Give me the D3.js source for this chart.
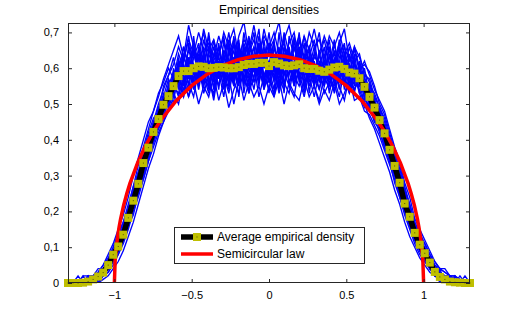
<!DOCTYPE html>
<html lang="en">
<head>
<meta charset="UTF-8">
<title>Empirical densities</title>
<script src="https://cdn.jsdelivr.net/npm/d3@7"></script>
<style>
    body { margin: 0; background: #fff; }
    svg { font-family: 'Liberation Sans', Arial, sans-serif; }
</style>
</head>
<body>
<div id="chart"></div>
<script>
// bin centres: -1.3 .. 1.3, 81 points
var xStart = -1.3, xStep = 0.0325, nBins = 81;
var binX = d3.range(nBins).map(function(k){ return +(xStart + k * xStep).toFixed(4); });

// average empirical density
var average = [0,0,0,0.001,0.004,0.010,0.018,0.029,0.050,0.079,
    0.102,0.135,0.182,0.230,0.277,0.335,0.378,0.422,0.458,0.498,
    0.522,0.550,0.578,0.592,0.592,0.600,0.605,0.604,0.600,0.601,
    0.603,0.602,0.600,0.600,0.603,0.609,0.612,0.612,0.615,0.615,
    0.606,0.617,0.613,0.608,0.606,0.608,0.611,0.600,0.598,0.598,
    0.593,0.590,0.596,0.602,0.604,0.598,0.588,0.585,0.572,0.548,
    0.520,0.490,0.455,0.418,0.372,0.327,0.280,0.222,0.185,0.140,
    0.107,0.083,0.057,0.031,0.017,0.010,0.004,0.002,0.001,0,0];

// a selection of the individual empirical densities (blue)
var emp1 = [0,0,0,0,0,0.02,0.02,0.04,0.06,0.08, 0.12,0.15,0.17,0.25,0.28,0.31,0.40,0.43,0.44,0.52,
    0.49,0.60,0.55,0.64,0.57,0.66,0.55,0.63,0.69,0.56, 0.62,0.54,0.66,0.59,0.67,0.55,0.64,0.70,0.58,0.63,
    0.53,0.66,0.60,0.69,0.55,0.62,0.66,0.54,0.64,0.57, 0.65,0.55,0.61,0.68,0.56,0.63,0.60,0.55,0.62,0.51,
    0.55,0.47,0.48,0.40,0.39,0.31,0.30,0.21,0.19,0.13, 0.12,0.06,0.07,0.02,0.02,0,0.02,0,0,0,0];
var emp2 = [0,0,0,0,0.02,0,0.02,0.02,0.04,0.09, 0.09,0.14,0.20,0.21,0.30,0.33,0.36,0.45,0.47,0.48,
    0.56,0.52,0.63,0.55,0.62,0.66,0.58,0.55,0.65,0.62, 0.54,0.68,0.57,0.63,0.52,0.66,0.61,0.57,0.67,0.60,
    0.65,0.56,0.70,0.58,0.63,0.55,0.60,0.67,0.53,0.62, 0.56,0.64,0.53,0.60,0.66,0.54,0.63,0.61,0.53,0.58,
    0.49,0.52,0.43,0.44,0.35,0.34,0.26,0.24,0.16,0.15, 0.09,0.10,0.04,0.04,0.02,0.02,0,0,0,0,0];
var emp3 = [0,0,0,0,0,0.02,0,0.04,0.05,0.07, 0.11,0.12,0.19,0.24,0.26,0.35,0.37,0.40,0.49,0.50,
    0.53,0.58,0.60,0.52,0.67,0.58,0.63,0.56,0.60,0.68, 0.57,0.63,0.60,0.55,0.66,0.62,0.56,0.64,0.71,0.57,
    0.60,0.68,0.55,0.62,0.66,0.57,0.65,0.59,0.62,0.55, 0.60,0.58,0.66,0.55,0.63,0.67,0.54,0.61,0.58,0.55,
    0.53,0.46,0.47,0.39,0.38,0.33,0.25,0.23,0.18,0.12, 0.11,0.07,0.05,0.04,0,0.02,0,0.02,0,0,0];
var emp4 = [0,0,0.02,0,0,0,0.02,0.02,0.06,0.06, 0.10,0.15,0.16,0.23,0.27,0.32,0.39,0.41,0.46,0.47,
    0.55,0.50,0.61,0.58,0.54,0.63,0.67,0.57,0.62,0.54, 0.66,0.60,0.56,0.69,0.60,0.64,0.57,0.62,0.55,0.68,
    0.58,0.62,0.66,0.56,0.59,0.68,0.56,0.62,0.66,0.60, 0.54,0.62,0.59,0.65,0.57,0.62,0.56,0.62,0.56,0.50,
    0.56,0.50,0.45,0.43,0.36,0.30,0.29,0.22,0.17,0.16, 0.10,0.08,0.06,0.02,0.04,0,0,0,0.02,0,0];
var emp5 = [0,0,0,0.02,0,0.02,0.02,0.03,0.04,0.08, 0.11,0.13,0.18,0.22,0.29,0.34,0.36,0.44,0.45,0.51,
    0.50,0.57,0.55,0.63,0.60,0.56,0.66,0.60,0.54,0.64, 0.61,0.57,0.65,0.58,0.62,0.56,0.68,0.59,0.63,0.56,
    0.66,0.60,0.57,0.64,0.61,0.55,0.66,0.58,0.60,0.66, 0.58,0.55,0.64,0.58,0.62,0.56,0.60,0.57,0.61,0.55,
    0.50,0.51,0.44,0.41,0.38,0.31,0.28,0.25,0.17,0.14, 0.10,0.08,0.05,0.03,0.02,0.02,0.02,0,0,0,0];
var emp6 = [0,0,0,0,0.02,0,0.02,0.04,0.04,0.09, 0.10,0.12,0.20,0.23,0.25,0.36,0.38,0.42,0.43,0.49,
    0.54,0.55,0.58,0.61,0.55,0.69,0.57,0.65,0.58,0.62, 0.58,0.64,0.55,0.67,0.59,0.66,0.58,0.60,0.67,0.54,
    0.62,0.57,0.64,0.53,0.69,0.63,0.57,0.64,0.58,0.63, 0.62,0.57,0.55,0.62,0.67,0.58,0.53,0.64,0.55,0.60,
    0.52,0.48,0.46,0.42,0.37,0.35,0.27,0.21,0.20,0.13, 0.11,0.09,0.05,0.02,0.02,0.02,0,0,0,0,0];
var emp7 = [0,0,0,0,0,0,0.02,0.02,0.05,0.07, 0.12,0.14,0.18,0.25,0.27,0.33,0.40,0.39,0.47,0.53,
    0.51,0.56,0.62,0.56,0.63,0.55,0.61,0.66,0.55,0.59, 0.67,0.56,0.62,0.57,0.63,0.60,0.65,0.56,0.61,0.66,
    0.56,0.63,0.58,0.66,0.56,0.61,0.64,0.55,0.61,0.57, 0.64,0.59,0.57,0.67,0.60,0.56,0.64,0.56,0.60,0.52,
    0.54,0.47,0.49,0.38,0.40,0.32,0.27,0.24,0.18,0.15, 0.09,0.09,0.06,0.03,0.03,0,0.02,0,0,0,0];
var emp8 = [0,0,0,0,0,0.02,0.02,0.03,0.05,0.08, 0.09,0.15,0.17,0.22,0.30,0.32,0.38,0.44,0.44,0.50,
    0.55,0.53,0.57,0.59,0.65,0.61,0.54,0.62,0.66,0.58, 0.63,0.59,0.68,0.55,0.64,0.57,0.60,0.66,0.56,0.62,
    0.60,0.54,0.65,0.62,0.58,0.66,0.60,0.63,0.56,0.64, 0.60,0.66,0.55,0.60,0.57,0.64,0.58,0.53,0.62,0.57,
    0.51,0.49,0.44,0.43,0.35,0.33,0.29,0.21,0.19,0.12, 0.12,0.07,0.04,0.03,0.02,0.02,0,0,0,0.02,0];
var emp9 = [0,0,0,0,0,0,0,0.02,0.04,0.07, 0.10,0.13,0.18,0.22,0.27,0.31,0.37,0.41,0.44,0.47,
    0.50,0.54,0.56,0.52,0.59,0.55,0.61,0.53,0.58,0.51, 0.60,0.55,0.58,0.50,0.57,0.62,0.53,0.58,0.61,0.54,
    0.59,0.52,0.60,0.56,0.53,0.61,0.57,0.52,0.59,0.55, 0.51,0.58,0.54,0.57,0.52,0.60,0.55,0.58,0.53,0.49,
    0.50,0.45,0.43,0.40,0.35,0.30,0.27,0.22,0.17,0.13, 0.10,0.07,0.05,0.03,0.02,0.01,0,0,0,0,0];
var emp10 = [0,0,0,0,0.02,0.02,0.02,0.04,0.06,0.09, 0.12,0.16,0.20,0.26,0.30,0.36,0.41,0.45,0.50,0.54,
    0.58,0.61,0.66,0.62,0.68,0.64,0.70,0.65,0.67,0.63, 0.69,0.64,0.67,0.71,0.63,0.68,0.65,0.72,0.64,0.69,
    0.66,0.70,0.64,0.68,0.72,0.65,0.69,0.63,0.70,0.66, 0.68,0.63,0.69,0.66,0.70,0.64,0.67,0.62,0.64,0.58,
    0.57,0.52,0.49,0.45,0.40,0.36,0.31,0.26,0.21,0.16, 0.13,0.10,0.07,0.05,0.03,0.02,0.02,0.01,0,0,0];
var emp11 = [0,0,0,0,0,0,0.01,0.02,0.03,0.05, 0.08,0.11,0.15,0.20,0.24,0.29,0.34,0.38,0.42,0.45,
    0.49,0.53,0.50,0.57,0.52,0.56,0.50,0.55,0.52,0.58, 0.51,0.56,0.49,0.54,0.58,0.51,0.56,0.52,0.55,0.50,
    0.55,0.52,0.57,0.50,0.56,0.53,0.51,0.57,0.52,0.55, 0.50,0.54,0.51,0.56,0.50,0.53,0.57,0.51,0.52,0.48,
    0.47,0.44,0.41,0.37,0.33,0.29,0.25,0.20,0.16,0.12, 0.09,0.06,0.04,0.02,0.01,0,0,0,0,0,0];
var emp12 = [0,0,0,0,0,0.02,0.03,0.05,0.07,0.10, 0.14,0.17,0.22,0.27,0.33,0.38,0.43,0.48,0.52,0.57,
    0.61,0.65,0.69,0.63,0.72,0.66,0.62,0.71,0.65,0.68, 0.63,0.70,0.66,0.62,0.69,0.73,0.64,0.68,0.62,0.71,
    0.65,0.68,0.73,0.63,0.67,0.70,0.62,0.69,0.65,0.71, 0.64,0.69,0.65,0.61,0.67,0.71,0.62,0.66,0.60,0.61,
    0.59,0.55,0.50,0.47,0.42,0.37,0.33,0.27,0.22,0.17, 0.14,0.11,0.08,0.05,0.04,0.03,0.02,0.02,0.01,0,0];
var emp13 = [0,0,0,0,0.01,0.01,0.03,0.05,0.08,0.11, 0.15,0.19,0.24,0.30,0.35,0.40,0.45,0.48,0.53,0.56,
    0.60,0.57,0.64,0.60,0.58,0.67,0.61,0.56,0.64,0.60, 0.55,0.65,0.61,0.58,0.68,0.53,0.62,0.66,0.59,0.55,
    0.67,0.61,0.54,0.63,0.60,0.69,0.58,0.61,0.65,0.55, 0.62,0.57,0.66,0.60,0.54,0.64,0.61,0.58,0.60,0.57,
    0.55,0.53,0.49,0.46,0.41,0.36,0.32,0.26,0.22,0.17, 0.13,0.11,0.08,0.06,0.04,0.03,0.02,0.01,0,0,0];
var emp14 = [0,0,0,0,0,0,0,0.01,0.02,0.04, 0.06,0.09,0.13,0.17,0.22,0.27,0.32,0.36,0.41,0.45,
    0.48,0.52,0.57,0.54,0.61,0.57,0.63,0.58,0.53,0.62, 0.66,0.59,0.54,0.63,0.57,0.64,0.60,0.54,0.63,0.58,
    0.62,0.58,0.55,0.64,0.60,0.57,0.65,0.61,0.55,0.60, 0.57,0.62,0.58,0.54,0.61,0.57,0.53,0.58,0.54,0.50,
    0.46,0.43,0.39,0.35,0.31,0.26,0.22,0.17,0.13,0.10, 0.07,0.05,0.03,0.02,0.01,0,0,0,0,0,0];
var emp15 = [0,0,0,0.02,0.02,0.02,0.04,0.04,0.06,0.10, 0.13,0.17,0.21,0.27,0.31,0.37,0.42,0.46,0.48,0.55,
    0.58,0.63,0.56,0.66,0.60,0.64,0.59,0.68,0.62,0.57, 0.64,0.69,0.60,0.65,0.58,0.70,0.62,0.59,0.66,0.61,
    0.70,0.59,0.64,0.67,0.61,0.58,0.68,0.62,0.66,0.59, 0.63,0.68,0.61,0.64,0.59,0.66,0.62,0.65,0.59,0.62,
    0.58,0.54,0.51,0.48,0.43,0.38,0.34,0.28,0.24,0.18, 0.15,0.12,0.09,0.06,0.04,0.04,0.02,0.02,0,0,0];
var emp16 = [0,0,0,0,0,0,0.01,0.02,0.04,0.06, 0.08,0.12,0.16,0.19,0.25,0.29,0.34,0.39,0.43,0.46,
    0.52,0.55,0.53,0.60,0.56,0.52,0.60,0.55,0.61,0.55, 0.59,0.52,0.61,0.56,0.53,0.60,0.55,0.61,0.52,0.58,
    0.54,0.60,0.53,0.59,0.55,0.52,0.61,0.56,0.58,0.52, 0.59,0.53,0.56,0.60,0.55,0.51,0.58,0.54,0.57,0.52,
    0.48,0.46,0.42,0.38,0.34,0.28,0.24,0.19,0.15,0.11, 0.08,0.06,0.04,0.02,0.01,0.01,0,0,0,0,0];
var emp17 = [0,0,0,0,0,0.02,0.02,0.02,0.06,0.09, 0.11,0.14,0.20,0.24,0.29,0.33,0.39,0.42,0.47,0.51,
    0.55,0.59,0.54,0.62,0.69,0.59,0.64,0.58,0.70,0.60, 0.63,0.58,0.64,0.68,0.56,0.63,0.69,0.61,0.57,0.65,
    0.61,0.67,0.59,0.55,0.65,0.60,0.70,0.57,0.63,0.68, 0.59,0.61,0.68,0.57,0.65,0.60,0.66,0.59,0.57,0.56,
    0.52,0.50,0.47,0.42,0.38,0.32,0.29,0.24,0.18,0.14, 0.10,0.09,0.06,0.04,0.02,0.02,0,0.02,0,0,0];
var emp18 = [0,0,0,0,0.02,0.02,0.02,0.04,0.05,0.07, 0.10,0.15,0.19,0.22,0.28,0.35,0.37,0.43,0.46,0.50,
    0.53,0.58,0.61,0.57,0.52,0.60,0.58,0.64,0.57,0.52, 0.61,0.57,0.63,0.56,0.61,0.58,0.53,0.62,0.59,0.64,
    0.57,0.53,0.61,0.58,0.64,0.56,0.59,0.53,0.61,0.58, 0.54,0.60,0.57,0.63,0.58,0.55,0.61,0.57,0.55,0.53,
    0.50,0.48,0.44,0.40,0.37,0.32,0.27,0.23,0.18,0.14, 0.11,0.08,0.06,0.03,0.02,0.02,0.01,0,0,0,0];
var emp19 = [0,0,0,0,0,0.01,0.02,0.03,0.05,0.08, 0.12,0.16,0.19,0.25,0.31,0.34,0.39,0.44,0.49,0.52,
    0.57,0.54,0.59,0.66,0.61,0.57,0.65,0.70,0.60,0.66, 0.59,0.62,0.70,0.61,0.55,0.67,0.63,0.60,0.69,0.62,
    0.67,0.63,0.60,0.70,0.64,0.59,0.63,0.69,0.60,0.64, 0.70,0.60,0.63,0.59,0.68,0.62,0.58,0.66,0.63,0.59,
    0.56,0.51,0.48,0.44,0.40,0.35,0.30,0.25,0.20,0.15, 0.12,0.09,0.07,0.04,0.03,0.02,0.01,0.01,0,0,0];
var emp20 = [0,0,0,0,0,0,0,0.02,0.03,0.06, 0.09,0.12,0.17,0.21,0.26,0.30,0.35,0.40,0.45,0.49,
    0.51,0.56,0.52,0.58,0.63,0.54,0.59,0.62,0.56,0.53, 0.62,0.58,0.53,0.60,0.65,0.57,0.54,0.63,0.58,0.62,
    0.56,0.61,0.57,0.54,0.62,0.58,0.55,0.60,0.63,0.56, 0.61,0.56,0.59,0.53,0.59,0.62,0.56,0.54,0.58,0.52,
    0.49,0.45,0.43,0.38,0.34,0.30,0.24,0.20,0.16,0.12, 0.09,0.07,0.04,0.03,0.02,0.01,0,0,0,0,0];
var empirical = [emp1, emp2, emp3, emp4, emp5, emp6, emp7, emp8, emp9, emp10,
    emp11, emp12, emp13, emp14, emp15, emp16, emp17, emp18, emp19, emp20];

// semicircular law, tabulated
var semiX = [-1,-0.995,-0.99,-0.98,-0.97,-0.96,-0.94,-0.92,-0.9,-0.85,-0.8,-0.75,-0.7,-0.6,-0.5,-0.4,-0.3,-0.2,-0.1,0,
    0.1,0.2,0.3,0.4,0.5,0.6,0.7,0.75,0.8,0.85,0.9,0.92,0.94,0.96,0.97,0.98,0.99,0.995,1];
var semiY = [0,0.0636,0.0898,0.1267,0.1548,0.1783,0.2172,0.2495,0.2775,0.3354,0.3820,0.4211,0.4546,0.5093,0.5513,0.5835,0.6073,0.6238,0.6334,0.6366,
    0.6334,0.6238,0.6073,0.5835,0.5513,0.5093,0.4546,0.4211,0.3820,0.3354,0.2775,0.2495,0.2172,0.1783,0.1548,0.1267,0.0898,0.0636,0];

var xTicks = [-1, -0.5, 0, 0.5, 1];
var xTickLabels = ['\u22121', '\u22120.5', '0', '0.5', '1'];
var yTicks = [0, 0.1, 0.2, 0.3, 0.4, 0.5, 0.6, 0.7];
var yTickLabels = ['0', '0,1', '0,2', '0,3', '0,4', '0,5', '0,6', '0,7'];
var legendLabels = ['Average empirical density', 'Semicircular law'];

var svgWidth = 519, svgHeight = 319;
var plotLeft = 68, plotRight = 470, plotTop = 23, plotBottom = 283;

var svg = d3.select('#chart').append('svg')
    .attr('width', svgWidth)
    .attr('height', svgHeight);

var x = d3.scaleLinear().domain([-1.3, 1.3]).range([plotLeft, plotRight]);
var y = d3.scaleLinear().domain([0, 0.7263]).range([plotBottom, plotTop]);

svg.append('clipPath').attr('id', 'plotclip')
    .append('rect')
    .attr('x', plotLeft).attr('y', plotTop)
    .attr('width', plotRight - plotLeft).attr('height', plotBottom - plotTop);

var plot = svg.append('g');
var lines = plot.append('g').attr('clip-path', 'url(#plotclip)');

var line = d3.line()
    .x(function(d, i){ return x(binX[i]); })
    .y(function(d){ return y(d); });

// blue individual densities
lines.selectAll('.emp')
    .data(empirical)
    .enter().append('path')
    .attr('class', 'emp')
    .attr('d', line)
    .attr('fill', 'none')
    .attr('stroke', '#0000ff')
    .attr('stroke-width', 1.35);

// average: thick black line
lines.append('path')
    .datum(average)
    .attr('d', line)
    .attr('fill', 'none')
    .attr('stroke', '#000')
    .attr('stroke-width', 5.5);

// average: square markers (not clipped)
var sq = 8;
plot.selectAll('.mk')
    .data(average)
    .enter().append('rect')
    .attr('class', 'mk')
    .attr('x', function(d, i){ return x(binX[i]) - sq / 2; })
    .attr('y', function(d){ return y(d) - sq / 2; })
    .attr('width', sq)
    .attr('height', sq)
    .attr('fill', '#bfbf00');

plot.selectAll('.dot')
    .data(average)
    .enter().append('rect')
    .attr('class', 'dot')
    .attr('x', function(d, i){ return x(binX[i]) - 0.5; })
    .attr('y', function(d){ return y(d) - 0.5; })
    .attr('width', 1)
    .attr('height', 1)
    .attr('fill', '#555500');

// semicircular law
var semi = d3.line()
    .x(function(d){ return x(d); })
    .y(function(d, i){ return y(semiY[i]); });

lines.append('path')
    .datum(semiX)
    .attr('d', semi)
    .attr('fill', 'none')
    .attr('stroke', '#ff0000')
    .attr('stroke-width', 3.5);

// axes box with inward ticks on all four sides
var axes = svg.append('g');
var tickLen = 4;

axes.append('g')
    .attr('transform', 'translate(0,' + plotBottom + ')')
    .call(d3.axisBottom(x).tickValues(xTicks).tickSize(-tickLen).tickPadding(8)
        .tickFormat(function(d, i){ return xTickLabels[i]; }));
axes.append('g')
    .attr('transform', 'translate(0,' + plotTop + ')')
    .call(d3.axisTop(x).tickValues(xTicks).tickSize(-tickLen).tickFormat(''));
axes.append('g')
    .attr('transform', 'translate(' + plotLeft + ',0)')
    .call(d3.axisLeft(y).tickValues(yTicks).tickSize(-tickLen).tickPadding(9)
        .tickFormat(function(d, i){ return yTickLabels[i]; }));
axes.append('g')
    .attr('transform', 'translate(' + plotRight + ',0)')
    .call(d3.axisRight(y).tickValues(yTicks).tickSize(-tickLen).tickFormat(''));

axes.selectAll('.domain').remove();
axes.selectAll('.tick line').attr('stroke', '#262626');
axes.selectAll('.tick text')
    .attr('fill', '#000')
    .style('font-size', '11px')
    .style('font-family', "'Liberation Sans', Arial, sans-serif");

axes.append('rect')
    .attr('x', plotLeft + 0.5).attr('y', plotTop + 0.5)
    .attr('width', plotRight - plotLeft - 1).attr('height', plotBottom - plotTop - 1)
    .attr('fill', 'none')
    .attr('stroke', '#262626')
    .attr('stroke-width', 1);

// title
svg.append('text')
    .attr('x', (plotLeft + plotRight) / 2)
    .attr('y', 14)
    .attr('text-anchor', 'middle')
    .style('font-size', '12px')
    .text('Empirical densities');

// legend
var lg = svg.append('g').attr('transform', 'translate(174,227)');
lg.append('rect')
    .attr('x', 0.5).attr('y', 0.5)
    .attr('width', 190).attr('height', 36)
    .attr('fill', '#fff')
    .attr('stroke', '#262626');

lg.append('line')
    .attr('x1', 7).attr('x2', 39).attr('y1', 10).attr('y2', 10)
    .attr('stroke', '#000').attr('stroke-width', 5.5);
lg.append('rect')
    .attr('x', 23 - sq / 2).attr('y', 10 - sq / 2)
    .attr('width', sq).attr('height', sq)
    .attr('fill', '#bfbf00');
lg.append('rect')
    .attr('x', 22.5).attr('y', 9.5).attr('width', 1).attr('height', 1)
    .attr('fill', '#555500');
lg.append('line')
    .attr('x1', 7).attr('x2', 39).attr('y1', 27).attr('y2', 27)
    .attr('stroke', '#ff0000').attr('stroke-width', 3.5);

lg.selectAll('.lt')
    .data(legendLabels)
    .enter().append('text')
    .attr('class', 'lt')
    .attr('x', 43)
    .attr('y', function(d, i){ return 14 + i * 17; })
    .style('font-size', '12px')
    .text(function(d){ return d; });
</script>
</body>
</html>
